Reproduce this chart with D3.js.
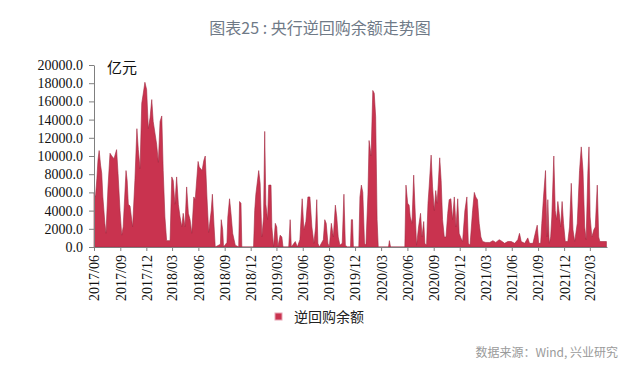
<!DOCTYPE html>
<html lang="zh">
<head>
<meta charset="UTF-8">
<title>央行逆回购余额走势图</title>
<style>
    body { margin: 0; background: #fff; }
    svg { display: block; }
    .axis path, .axis line { stroke: #7f7f7f; }
    .axis text { font-family: "Times New Roman", "Liberation Serif", Tinos, "DejaVu Serif", serif !important; font-size: 14px; fill: #111; }
</style>
</head>
<body>
<svg id="chart" width="640" height="386"></svg>

<script src="https://d3js.org/d3.v7.min.js"></script>
<script>
// 逆回购余额（亿元），按日期读取
const dates = [
    "2017-06-01","2017-06-06","2017-06-11","2017-06-15","2017-06-19","2017-06-24","2017-06-28","2017-07-02",
    "2017-07-09","2017-07-13","2017-07-20","2017-07-27","2017-08-02","2017-08-10","2017-08-19","2017-08-24",
    "2017-08-31","2017-09-06","2017-09-11","2017-09-21","2017-09-25","2017-09-29","2017-10-05","2017-10-14",
    "2017-10-22","2017-10-29","2017-11-03","2017-11-09","2017-11-15","2017-11-20","2017-11-26","2017-12-02",
    "2017-12-08","2017-12-14","2017-12-20","2017-12-25","2018-01-06","2018-01-12","2018-01-18","2018-01-24",
    "2018-01-29","2018-02-04","2018-02-10","2018-02-22","2018-02-28","2018-03-05","2018-03-11","2018-03-17",
    "2018-03-23","2018-03-29","2018-04-04","2018-04-09","2018-04-15","2018-04-21","2018-04-27","2018-05-03",
    "2018-05-09","2018-05-16","2018-05-21","2018-05-31","2018-06-04","2018-06-14","2018-06-20","2018-06-25",
    "2018-07-01","2018-07-07","2018-07-16","2018-07-20","2018-07-26","2018-07-30","2018-08-17","2018-08-20",
    "2018-08-25","2018-08-28","2018-09-09","2018-09-12","2018-09-18","2018-09-23","2018-09-29","2018-10-08",
    "2018-10-20","2018-10-23","2018-10-28","2018-10-31","2018-12-11","2018-12-15","2018-12-19","2018-12-29",
    "2019-01-03","2019-01-09","2019-01-15","2019-01-19","2019-01-23","2019-01-29","2019-02-02","2019-02-10",
    "2019-02-13","2019-02-19","2019-02-25","2019-03-02","2019-03-06","2019-03-14","2019-03-20","2019-03-24",
    "2019-04-13","2019-04-18","2019-04-22","2019-05-06","2019-05-13","2019-05-22","2019-05-30","2019-06-05",
    "2019-06-12","2019-06-19","2019-06-26","2019-07-03","2019-07-10","2019-07-16","2019-07-20","2019-07-24",
    "2019-07-29","2019-08-12","2019-08-17","2019-08-22","2019-08-28","2019-09-02","2019-09-09","2019-09-16",
    "2019-09-23","2019-09-28","2019-10-03","2019-10-09","2019-10-17","2019-10-23","2019-10-28","2019-11-04",
    "2019-11-15","2019-11-18","2019-11-22","2019-11-25","2019-12-14","2019-12-18","2019-12-23","2019-12-28",
    "2020-01-03","2020-01-08","2020-01-15","2020-01-19","2020-01-26","2020-02-01","2020-02-06","2020-02-11",
    "2020-02-16","2020-02-20","2020-03-27","2020-03-30","2020-04-03","2020-05-23","2020-05-27","2020-06-02",
    "2020-06-07","2020-06-11","2020-06-17","2020-06-23","2020-06-27","2020-07-03","2020-07-10","2020-07-17",
    "2020-07-22","2020-07-28","2020-08-01","2020-08-07","2020-08-12","2020-08-16","2020-08-23","2020-08-28",
    "2020-09-03","2020-09-08","2020-09-13","2020-09-22","2020-09-27","2020-10-02","2020-10-08","2020-10-14",
    "2020-10-20","2020-10-25","2020-10-31","2020-11-06","2020-11-12","2020-11-18","2020-11-24","2020-11-29",
    "2020-12-05","2020-12-11","2020-12-19","2020-12-26","2020-12-31","2021-01-06","2021-01-15","2021-01-21",
    "2021-01-26","2021-02-01","2021-02-07","2021-02-13","2021-02-19","2021-03-02","2021-03-16","2021-03-27",
    "2021-04-06","2021-04-18","2021-04-24","2021-05-07","2021-05-18","2021-05-30","2021-06-11","2021-06-22",
    "2021-06-28","2021-07-04","2021-07-16","2021-07-27","2021-08-02","2021-08-14","2021-08-25","2021-08-29",
    "2021-09-03","2021-09-10","2021-09-14","2021-09-20","2021-09-27","2021-10-02","2021-10-05","2021-10-10",
    "2021-10-15","2021-10-19","2021-10-26","2021-10-31","2021-11-05","2021-11-09","2021-11-14","2021-11-19",
    "2021-11-24","2021-11-29","2021-12-05","2021-12-14","2021-12-20","2021-12-26","2022-01-01","2022-01-07",
    "2022-01-16","2022-01-24","2022-01-30","2022-02-05","2022-02-11","2022-02-16","2022-02-22","2022-02-26",
    "2022-03-02","2022-03-08","2022-03-15","2022-03-20","2022-03-27","2022-04-01","2022-04-05","2022-04-28"
];
const balances = [
    5900, 5500, 7500, 9600, 10600, 9000, 8100, 5500,
    2600, 1500, 6600, 10300, 10000, 9700, 10700, 8100,
    4000, 1300, 2200, 8400, 7300, 4700, 4500, 2200,
    7300, 13000, 10700, 8600, 15800, 16800, 18100, 17300,
    13000, 14200, 16200, 13800, 11300, 9300, 13800, 14400,
    8400, 3300, 700, 700, 7700, 7300, 4700, 7700,
    4700, 3300, 2200, 3700, 2200, 6600, 3700, 3000,
    1500, 5500, 5200, 9400, 8800, 8400, 9500, 10000,
    5500, 1600, 4000, 5800, 2200, 0, 300, 3000,
    1900, 0, 500, 3300, 5300, 3700, 1500, 200,
    0, 5000, 4800, 0, 0, 4000, 5800, 8400,
    7000, 1100, 3300, 12700, 4700, 3000, 6800, 6800,
    2200, 0, 2600, 2200, 0, 1300, 1100, 0,
    0, 3000, 0, 600, 0, 800, 5300, 1900,
    2800, 5500, 5500, 2200, 400, 2200, 5200, 400,
    0, 800, 3000, 2600, 400, 0, 2600, 1100,
    4600, 3300, 1100, 200, 400, 5800, 200, 0,
    0, 3000, 3000, 0, 0, 5500, 6800, 6000,
    400, 200, 5800, 11700, 10000, 17200, 16900, 14300,
    3000, 0, 0, 700, 0, 0, 6800, 4800,
    4600, 3300, 2600, 7900, 4800, 200, 2200, 3700,
    1100, 2800, 400, 200, 4800, 6600, 10100, 6600,
    4000, 6200, 4800, 9800, 7300, 3000, 1100, 1100,
    3700, 5200, 5300, 3000, 5500, 2200, 5300, 1500,
    1000, 600, 4000, 5500, 400, 200, 4000, 6000,
    5500, 5200, 2600, 1100, 600, 500, 500, 700,
    500, 800, 700, 400, 600, 600, 400, 800,
    1500, 600, 400, 1000, 400, 400, 1900, 2400,
    400, 400, 2600, 5500, 8400, 1100, 5200, 400,
    1100, 3300, 10000, 4000, 3000, 5000, 3700, 2200,
    5000, 2600, 600, 600, 2200, 7000, 1900, 600,
    2600, 8400, 11000, 8400, 2200, 800, 8100, 11000,
    3300, 1100, 1900, 2200, 6800, 1100, 600, 600
];
const monthTicks = [
    "2017/06","2017/09","2017/12","2018/03","2018/06","2018/09","2018/12","2019/03","2019/06","2019/09",
    "2019/12","2020/03","2020/06","2020/09","2020/12","2021/03","2021/06","2021/09","2021/12","2022/03"
];
const yTicks = [0, 2000, 4000, 6000, 8000, 10000, 12000, 14000, 16000, 18000, 20000];
const seriesName = "逆回购余额";

const parseDay = d3.timeParse("%Y-%m-%d");
const parseMonth = d3.timeParse("%Y/%m");
const data = dates.map((d, i) => ({date: parseDay(d), value: balances[i]}));

const svg = d3.select("#chart");

const x = d3.scaleTime()
    .domain([parseDay("2017-06-01"), parseDay("2022-04-30")])
    .range([94, 607]);
const y = d3.scaleLinear()
    .domain([0, 20000])
    .range([247, 65]);

// 标题
svg.append("text")
    .attr("x", 320).attr("y", 34)
    .attr("text-anchor", "middle")
    .style("font-family", "'Noto Sans CJK SC', 'Noto Sans', sans-serif")
    .style("font-size", "16px")
    .style("fill", "#6f7a87")
    .text("图表25 : 央行逆回购余额走势图");

// 面积
const area = d3.area()
    .x(d => x(d.date))
    .y0(y(0))
    .y1(d => y(d.value));

svg.append("path")
    .datum(data)
    .attr("d", area)
    .attr("fill", "#c9334f")
    .attr("stroke", "#a3283f")
    .attr("stroke-width", 0.6);

// y 轴
svg.append("g")
    .attr("class", "axis")
    .attr("transform", "translate(94,0)")
    .attr("font-family", null)
    .call(d3.axisLeft(y).tickValues(yTicks).tickFormat(d3.format(".1f")).tickSize(5).tickSizeOuter(0).tickPadding(6))
    .attr("font-family", null)
    .attr("font-size", null);

// x 轴
const xAxis = svg.append("g")
    .attr("class", "axis")
    .attr("transform", "translate(0,247)")
    .call(d3.axisBottom(x).tickValues(monthTicks.map(parseMonth)).tickFormat(d3.timeFormat("%Y/%m")).tickSize(4).tickSizeOuter(0))
    .attr("font-family", null)
    .attr("font-size", null);

xAxis.selectAll("text")
    .attr("transform", "rotate(-90)")
    .attr("text-anchor", "end")
    .attr("x", -8)
    .attr("y", 0)
    .attr("dy", "0.35em");

// 单位
svg.append("text")
    .attr("x", 107).attr("y", 73)
    .style("font-family", "'Noto Sans CJK SC', serif")
    .style("font-size", "15px")
    .style("fill", "#111")
    .text("亿元");

// 图例
const legend = svg.append("g").attr("transform", "translate(275,313)");
legend.append("rect")
    .attr("width", 7).attr("height", 7)
    .attr("fill", "#c9334f")
    .attr("stroke", "#e7a5b5")
    .attr("stroke-width", 1);
legend.append("text")
    .attr("x", 19).attr("y", 9)
    .style("font-family", "'Noto Sans CJK SC', serif")
    .style("font-size", "14px")
    .style("fill", "#222")
    .text(seriesName);

// 数据来源
svg.append("text")
    .attr("x", 618).attr("y", 357)
    .attr("text-anchor", "end")
    .style("font-family", "'Noto Sans CJK SC', 'Noto Sans', sans-serif")
    .style("font-size", "12px")
    .style("fill", "#9a9a9a")
    .text("数据来源：Wind, 兴业研究");
</script>
</body>
</html>
